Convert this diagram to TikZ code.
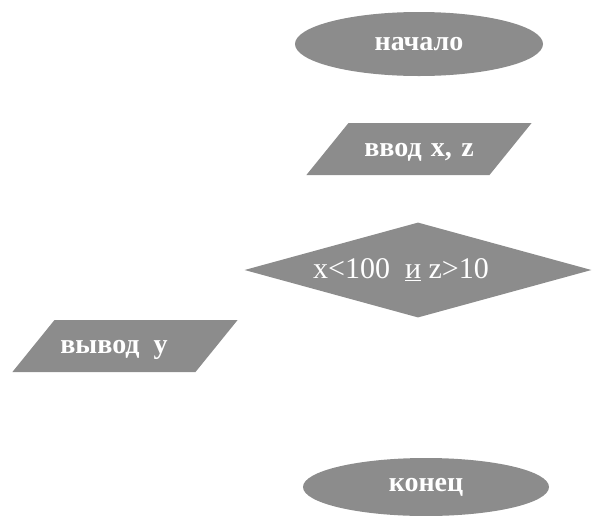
\documentclass[tikz,border=0pt]{standalone}
\usepackage{fontspec}
\setmainfont{Liberation Serif}
\usetikzlibrary{shapes.geometric}

\definecolor{blockgray}{RGB}{140,140,140}

\begin{document}
\begin{tikzpicture}[x=1pt,y=-1pt,
    block/.style={fill=blockgray, text=white, inner sep=0pt,
      font=\bfseries\fontsize{28}{30}\selectfont},
    terminal/.style={block, ellipse, minimum width=248pt, minimum height=64pt},
    io/.style={block, trapezium, trapezium left angle=51, trapezium right angle=129,
      text width=141pt, align=center, text height=20pt, text depth=6pt,
      inner xsep=0pt, inner ysep=13pt},
    decision/.style={block, diamond, shape aspect=3.65, minimum width=347pt,
      minimum height=95pt, font=\fontsize{30}{32}\selectfont}]
    % Fix the page size
    \useasboundingbox (0,0) rectangle (592,515);

    % Draw the blocks
    \node[terminal] (start) at (419,44) {начало};
    \node[io] (input) at (419,149) {ввод x, z};
    \node[decision] (check) at (418,270) {x<100\enspace\underline{и} z>10\hspace*{34pt}};
    \node[io] (output) at (125,346) {вывод\enspace y\hspace*{22pt}};
    \node[terminal, minimum width=246pt, minimum height=58pt] (stop) at (426,487) {конец};
\end{tikzpicture}
\end{document}
